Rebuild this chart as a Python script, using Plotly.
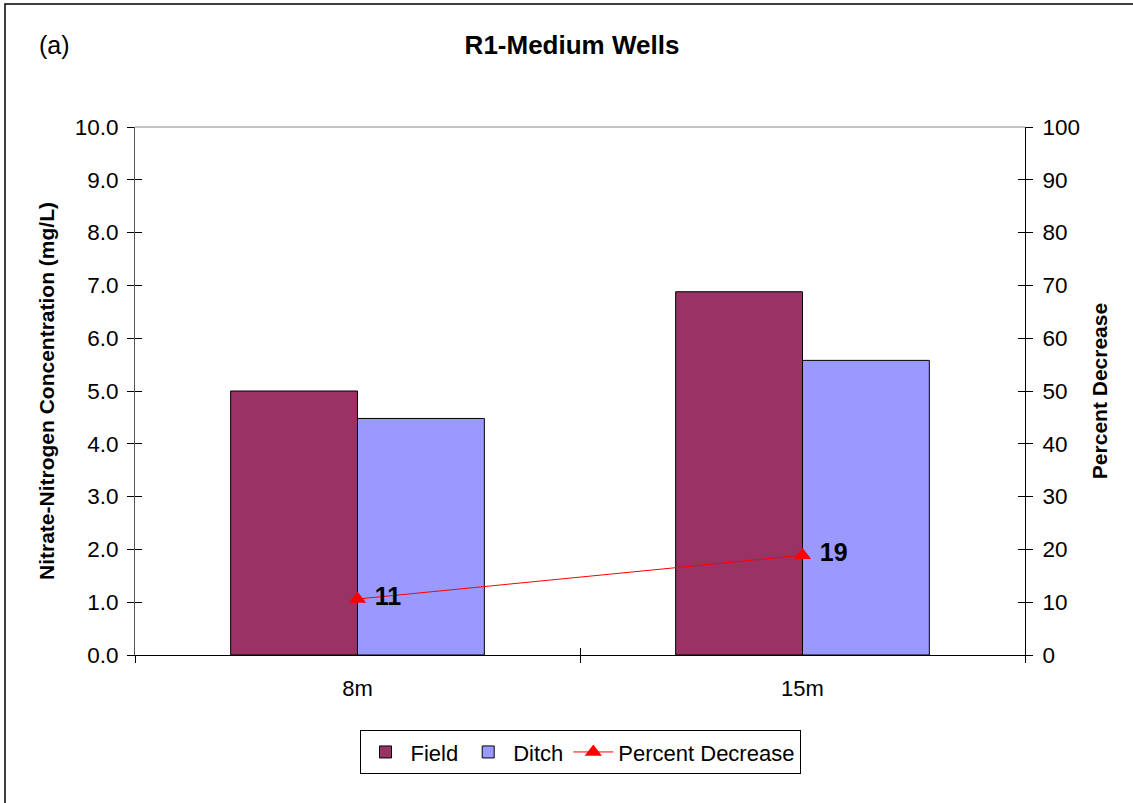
import plotly.graph_objects as go

categories = ["8m", "15m"]
field = [5.0, 6.88]
ditch = [4.48, 5.58]
pct_decrease = [10.6, 18.9]

FONT = "Liberation Sans, Arial, sans-serif"

fig = go.Figure()
fig.add_trace(go.Bar(name="Field", x=categories, y=field,
                     marker=dict(color="#993366", line=dict(color="#000000", width=1))))
fig.add_trace(go.Bar(name="Ditch", x=categories, y=ditch,
                     marker=dict(color="#9999FF", line=dict(color="#000000", width=1))))
fig.add_trace(go.Scatter(name="Percent Decrease", x=categories, y=pct_decrease, yaxis="y2",
                         mode="lines+markers+text",
                         line=dict(color="#FF0000", width=1),
                         marker=dict(symbol="triangle-up", size=15, color="#FF0000"),
                         texttemplate="&nbsp;<b>%{y:.0f}</b>", textposition="middle right",
                         textfont=dict(size=25, color="#000000", family=FONT)))

fig.update_layout(
    width=1133, height=803,
    margin=dict(l=135, r=108, t=127, b=148),
    paper_bgcolor="white", plot_bgcolor="white",
    font=dict(family=FONT, size=22, color="#000000"),
    barmode="group", bargap=0.43, bargroupgap=0,
    showlegend=True,
    legend=dict(orientation="h", x=0.5, xanchor="center", y=-0.184, yanchor="middle",
                bordercolor="#000000", borderwidth=1, font=dict(size=22),
                traceorder="normal", itemwidth=40),
    xaxis=dict(type="category", range=[-0.5, 1.5], showline=True, linecolor="#000000",
               linewidth=1, ticks="outside", ticklen=7, tickson="boundaries",
               tickcolor="#000000", showgrid=False, zeroline=False, fixedrange=True,
               ticklabelstandoff=14, tickfont=dict(size=22)),
    xaxis2=dict(overlaying="x", range=[-0.5, 1.5], tickvals=[-0.5, 0.5, 1.5],
                ticks="inside", ticklen=7, tickcolor="#000000", showticklabels=False,
                showgrid=False, zeroline=False, showline=False, anchor="y"),
    yaxis=dict(range=[0, 10], dtick=1, tickformat=".1f", showline=True, linecolor="#555555",
               linewidth=1, ticks="outside", ticklen=7, tickcolor="#000000",
               showgrid=False, zeroline=False, ticklabelstandoff=4, tickfont=dict(size=22.5),
               title=dict(text="<b>Nitrate-Nitrogen Concentration (mg/L)</b>",
                          font=dict(size=21), standoff=14)),
    yaxis3=dict(overlaying="y", range=[0, 10], dtick=1, ticks="inside", ticklen=7,
                tickcolor="#000000", showticklabels=False, showgrid=False,
                zeroline=False, showline=False),
    yaxis2=dict(overlaying="y", side="right", range=[0, 100], dtick=10, showline=True,
                linecolor="#000000", linewidth=1, ticks="outside", ticklen=7,
                tickcolor="#000000", showgrid=False, zeroline=False,
                ticklabelstandoff=5, tickfont=dict(size=22.5),
                title=dict(text="<b>Percent Decrease</b>", font=dict(size=21), standoff=13)),
    yaxis4=dict(overlaying="y", side="right", range=[0, 100], dtick=10, ticks="inside",
                ticklen=7, tickcolor="#000000", showticklabels=False, showgrid=False,
                zeroline=False, showline=False, anchor="x"),
    title=dict(text="<b>R1-Medium Wells</b>", x=(572 / 1133), xanchor="center",
               y=1 - 45 / 803, yanchor="middle", font=dict(size=26)),
)

# invisible helper traces to render overlay axes
fig.add_trace(go.Scatter(x=[None], y=[None], xaxis="x2", yaxis="y3", showlegend=False,
                         hoverinfo="skip"))
fig.add_trace(go.Scatter(x=[None], y=[None], xaxis="x2", yaxis="y4", showlegend=False,
                         hoverinfo="skip"))

# top border of plot area
fig.add_shape(type="line", xref="paper", yref="paper", x0=0, x1=1, y0=1, y1=1,
              line=dict(color="#888888", width=1))
# outer chart frame
fig.add_shape(type="rect", xref="paper", yref="paper",
              x0=(5 - 135) / 890, x1=(1140 - 135) / 890,
              y0=(655 - 810) / 528, y1=1 + (127 - 4) / 528,
              line=dict(color="#000000", width=1.5), layer="below")

fig.add_annotation(text="(a)", xref="paper", yref="paper",
                   x=(37 - 135) / 890, y=1 + (127 - 45) / 528,
                   xanchor="left", yanchor="middle", showarrow=False,
                   font=dict(size=25))

fig.write_html("out.html", config={"displayModeBar": False},
               post_script="document.body.style.margin='0';")
